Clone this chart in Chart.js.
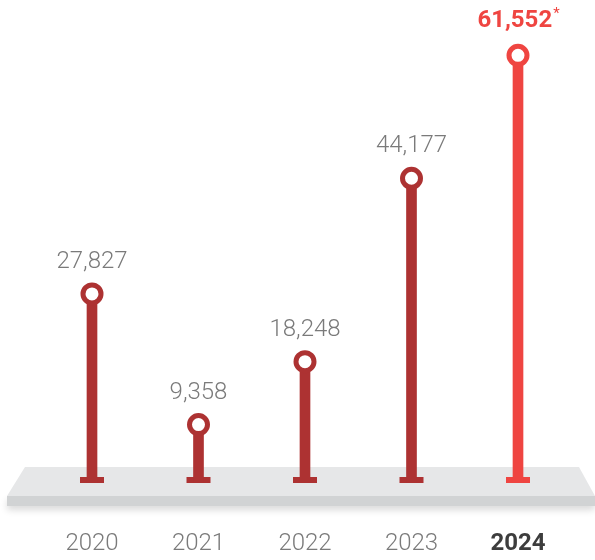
<!DOCTYPE html>
<html>
<head>
<meta charset="utf-8">
<script src="https://cdn.jsdelivr.net/npm/chart.js"></script>
<style>
  html, body { margin: 0; padding: 0; background: #fff; }
</style>
</head>
<body>
<canvas id="lollipopChart" width="595" height="560"></canvas>
<script>
const years = ['2020', '2021', '2022', '2023', '2024'];
const counts = [27827, 9358, 18248, 44177, 61552];
const countLabels = ['27,827', '9,358', '18,248', '44,177', '61,552'];
const stemColors = ['#ad3232', '#ad3232', '#ad3232', '#ad3232', '#ef4541'];
const highlightIndex = 4;

const fontFamily = 'Roboto, "Liberation Sans", sans-serif';

// platform, tees and value labels
const lollipopDecor = {
  id: 'lollipopDecor',
  beforeDatasetsDraw(chart) {
    const ctx = chart.ctx;
    const base = chart.chartArea.bottom;
    const w = chart.width;
    ctx.save();
    // front face with soft shadow
    ctx.shadowColor = 'rgba(0,0,0,0.15)';
    ctx.shadowBlur = 7;
    ctx.shadowOffsetY = 4;
    ctx.fillStyle = '#d1d3d4';
    ctx.fillRect(7, base + 13, w - 7, 10);
    ctx.shadowColor = 'transparent';
    // top face
    ctx.fillStyle = '#e6e7e8';
    ctx.beginPath();
    ctx.moveTo(25, base - 16);
    ctx.lineTo(579, base - 16);
    ctx.lineTo(w, base + 13);
    ctx.lineTo(7, base + 13);
    ctx.closePath();
    ctx.fill();
    // tees at the stem feet
    const meta = chart.getDatasetMeta(1);
    meta.data.forEach((bar, i) => {
      ctx.fillStyle = stemColors[i];
      ctx.fillRect(bar.x - 12, base - 6, 24, 6);
    });
    ctx.restore();
  },
  afterDatasetsDraw(chart) {
    const ctx = chart.ctx;
    const meta = chart.getDatasetMeta(0);
    ctx.save();
    ctx.textBaseline = 'alphabetic';
    meta.data.forEach((pt, i) => {
      if (i === highlightIndex) {
        ctx.font = 'bold 24px ' + fontFamily;
        const w1 = ctx.measureText(countLabels[i]).width;
        ctx.font = '15px ' + fontFamily;
        const w2 = ctx.measureText('*').width;
        const x0 = pt.x - (w1 + w2) / 2;
        ctx.fillStyle = stemColors[i];
        ctx.textAlign = 'left';
        ctx.font = 'bold 24px ' + fontFamily;
        ctx.fillText(countLabels[i], x0, pt.y - 28);
        ctx.font = '15px ' + fontFamily;
        ctx.fillText('*', x0 + w1 + 1, pt.y - 37);
      } else {
        ctx.font = '300 24px ' + fontFamily;
        ctx.fillStyle = '#7a7a7a';
        ctx.textAlign = 'center';
        ctx.fillText(countLabels[i], pt.x, pt.y - 26);
      }
    });
    ctx.restore();
  }
};

const ctx1 = document.getElementById('lollipopChart').getContext('2d');

const chartData = {
  labels: years,
  datasets: [
    {
      type: 'line',
      data: counts,
      showLine: false,
      pointRadius: 9,
      pointHoverRadius: 9,
      pointBorderWidth: 5,
      pointHoverBorderWidth: 5,
      pointBackgroundColor: '#ffffff',
      pointBorderColor: stemColors,
      clip: false,
      order: 0
    },
    {
      type: 'bar',
      data: counts,
      backgroundColor: stemColors,
      barThickness: 10,
      order: 1
    }
  ]
};

const config = {
  type: 'bar',
  data: chartData,
  options: {
    responsive: false,
    animation: false,
    events: [],
    layout: {
      padding: { top: 9.3, left: 38.75, right: 23.75, bottom: 4 }
    },
    scales: {
      y: {
        display: false,
        min: 1100,
        max: 67400
      },
      x: {
        grid: { display: false, drawTicks: false },
        border: { display: false },
        afterFit: (scale) => { scale.height = 73; },
        ticks: {
          padding: 47,
          font: (c) => c.index === highlightIndex
            ? { family: fontFamily, size: 24, weight: 'bold' }
            : { family: fontFamily, size: 24, weight: '300' },
          color: (c) => c.index === highlightIndex ? '#3d3d3d' : '#7a7a7a'
        }
      }
    },
    plugins: {
      legend: { display: false },
      tooltip: { enabled: false }
    }
  },
  plugins: [lollipopDecor]
};

const myChart = new Chart(ctx1, config);
</script>
</body>
</html>
